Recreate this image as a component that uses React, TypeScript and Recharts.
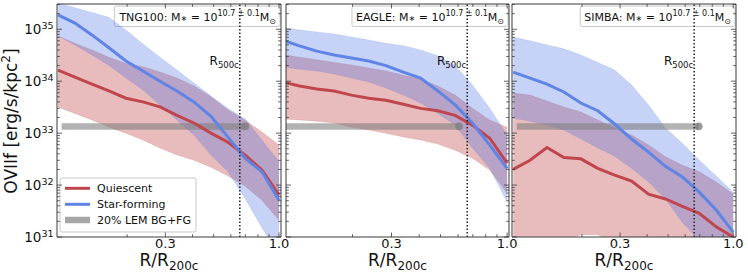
import React, { useLayoutEffect, useRef, useState } from 'react';
import { ComposedChart, Area, Line, XAxis, YAxis, ReferenceLine, Customized } from 'recharts';

// ---------------- data ----------------
const radius = [0.0962, 0.1151, 0.1378, 0.165, 0.1976, 0.2366, 0.2833, 0.3392, 0.4061, 0.4862, 0.5821, 0.6969, 0.8344, 1.0];

// TNG100
const tngQ = [1.64e34, 1.2e34, 8.8e33, 6.5e33, 4.7e33, 4.0e33, 3.2e33, 2.2e33, 1.57e33, 1.0e33, 6.7e32, 3.8e32, 1.95e32, 6.4e31];
const tngQLo = [3.2e33, 2.4e33, 1.8e33, 1.3e33, 1.0e33, 7.4e32, 5.2e32, 3.8e32, 3.0e32, 2.2e32, 1.5e32, 9.6e31, 5.1e31, 2.1e31];
const tngQHi = [7.4e34, 5.4e34, 4.0e34, 2.9e34, 2.2e34, 1.9e34, 1.5e34, 1.15e34, 8.1e33, 5.0e33, 2.8e33, 1.8e33, 1.05e33, 5.9e32];
const tngSF = [1.89e35, 1.32e35, 7.8e34, 4.4e34, 2.45e34, 1.57e34, 1.0e34, 6.5e33, 4.0e33, 2.1e33, 8.4e32, 3.3e32, 1.8e32, 5.1e31];
const tngSFLo = [7.4e34, 5.0e34, 3.2e34, 2.0e34, 1.15e34, 6.8e33, 3.5e33, 1.8e33, 9.2e32, 3.8e32, 1.8e32, 5.6e31, 1.5e31, 4.5e30];
const tngSFHi = [3.2e35, 2.6e35, 2.1e35, 1.7e35, 9.7e34, 5.2e34, 2.9e34, 1.64e34, 9.2e33, 5.2e33, 3.0e33, 1.9e33, 7.4e32, 2.8e32];

// EAGLE
const eagQ = [9.7e33, 8.1e33, 7.1e33, 6.5e33, 5.4e33, 4.7e33, 4.3e33, 3.6e33, 3.0e33, 2.7e33, 2.2e33, 1.43e33, 8.0e32, 2.65e32];
const eagQLo = [1.87e33, 1.8e33, 1.7e33, 1.57e33, 1.3e33, 1.15e33, 1.0e33, 8.4e32, 7.4e32, 6.2e32, 4.7e32, 3.3e32, 1.95e32, 7.0e31];
const eagQHi = [3.3e34, 2.9e34, 2.6e34, 2.3e34, 2.05e34, 1.8e34, 1.57e34, 1.3e34, 1.1e34, 8.1e33, 5.4e33, 3.0e33, 1.8e33, 1.3e33];
const eagSF = [6.2e34, 4.8e34, 3.8e34, 3.2e34, 2.8e34, 2.45e34, 2.0e34, 1.5e34, 1.15e34, 6.5e33, 3.5e33, 1.57e33, 5.9e32, 2.1e32];
const eagSFLo = [1.9e34, 1.7e34, 1.57e34, 1.38e34, 1.15e34, 9.7e33, 7.4e33, 5.4e33, 3.8e33, 2.4e33, 1.43e33, 5.2e32, 2.1e32, 4.7e31];
const eagSFHi = [1.1e35, 9.7e34, 8.9e34, 8.1e34, 7.1e34, 6.2e34, 5.4e34, 4.8e34, 4.0e34, 3.1e34, 2.0e34, 8.5e33, 3.0e33, 9.2e32];

// SIMBA
const simQ = [2.0e32, 3.0e32, 5.3e32, 3.4e32, 3.2e32, 2.1e32, 1.56e32, 1.2e32, 6.7e31, 5.4e31, 3.9e31, 2.85e31, 1.57e31, 1.0e31];
const simQLo = [5e30, 6e30, 7e30, 8.5e30, 1.1e31, 1.1e31, 8e30, 6e30, 5e30, 4e30, 3e30, 2.5e30, 2e30, 1.5e30];
const simQHi = [5.9e33, 5.4e33, 4.15e33, 3.2e33, 2.55e33, 1.8e33, 1.25e33, 9.2e32, 5.9e32, 3.5e32, 2.4e32, 1.8e32, 1.14e32, 6.7e31];
const simSF = [1.5e34, 1.15e34, 8.8e33, 6.2e33, 3.8e33, 2.7e33, 1.5e33, 7.7e32, 4.3e32, 2.3e32, 1.43e32, 7.3e31, 3.3e31, 1.24e31];
const simSFLo = [1.95e33, 1.7e33, 1.43e33, 1.15e33, 7.7e32, 5.2e32, 3.6e32, 2.1e32, 1.14e32, 5.4e31, 1.9e31, 8.7e30, 4.5e30, 2.3e30];
const simSFHi = [7.1e34, 6.0e34, 5.0e34, 4.2e34, 3.2e34, 2.3e34, 1.64e34, 8.5e33, 3.5e33, 1.25e33, 6.4e32, 3.0e32, 1.5e32, 7.3e31];

// 20% LEM background + foreground level and its radial extent per panel
const bgLevel = 1.35e33;
const tngBgR = [0.1, 0.7];
const eagBgR = [0.1, 0.607];
const simBgR = [0.1, 0.693];

const r500c = 0.66;

// axes
const yTicks = [
  1e31, 2e31, 3e31, 4e31, 5e31, 6e31, 7e31, 8e31, 9e31,
  1e32, 2e32, 3e32, 4e32, 5e32, 6e32, 7e32, 8e32, 9e32,
  1e33, 2e33, 3e33, 4e33, 5e33, 6e33, 7e33, 8e33, 9e33,
  1e34, 2e34, 3e34, 4e34, 5e34, 6e34, 7e34, 8e34, 9e34,
  1e35, 2e35, 3e35,
];
const yMajor = [1e31, 1e32, 1e33, 1e34, 1e35];
const yMajorExp = ['31', '32', '33', '34', '35'];
const xTicks = [0.2, 0.3, 0.4, 0.5, 0.6, 0.7, 0.8, 0.9, 1.0];
const xTickLabelValues = [0.3, 1.0];
const xTickLabels = ['0.3', '1.0'];
const yDomain: [number, number] = [1e31, 3.07e35];

const panelNames = ['TNG100', 'EAGLE', 'SIMBA'];
const legendLabels = ['Quiescent', 'Star-forming', '20% LEM BG+FG'];

// ---------------- style ----------------
const W = 748, H = 274, TOP = 4, BOTTOM = 237;
const FONT = '"DejaVu Sans", Verdana, sans-serif';
const AXIS = '#3a3a3a';
const RED = '#c0464e';
const BLUE = '#5f84e6';
const RED_FILL = '#b22222';
const BLUE_FILL = '#4169e1';
const GREY = '#808080';

const rowsOf = (q: number[], qLo: number[], qHi: number[], sf: number[], sfLo: number[], sfHi: number[]) =>
  radius.map((r, i) => ({ r, q: q[i], qBand: [qLo[i], qHi[i]], sf: sf[i], sfBand: [sfLo[i], sfHi[i]] }));
const bgOf = (rr: number[]) => rr.map((r) => ({ r, v: bgLevel }));

const near = (a: number, b: number) => Math.abs(a / b - 1) < 1e-6;

function XTick(props: any) {
  const { x, y, payload, side } = props;
  const v = payload.value;
  const li = xTickLabelValues.findIndex((t) => near(t, v));
  const len = li >= 0 ? 4.5 : 2.8;
  if (side === 'top') {
    return <line x1={x} x2={x} y1={y} y2={y + len} stroke={AXIS} strokeWidth={0.8} />;
  }
  return (
    <g>
      <line x1={x} x2={x} y1={y} y2={y - len} stroke={AXIS} strokeWidth={0.8} />
      {li >= 0 && (
        <text x={x} y={y + 11} textAnchor="middle" fontSize={13} fontFamily={FONT} fill="#111">
          {xTickLabels[li]}
        </text>
      )}
    </g>
  );
}

function YTick(props: any) {
  const { x, y, payload, side, showLabel } = props;
  const v = payload.value;
  const mi = yMajor.findIndex((t) => near(t, v));
  const len = mi >= 0 ? 5 : 2.8;
  if (side === 'right') {
    return <line x1={x} x2={x - len} y1={y} y2={y} stroke={AXIS} strokeWidth={0.8} />;
  }
  return (
    <g>
      <line x1={x} x2={x + len} y1={y} y2={y} stroke={AXIS} strokeWidth={0.8} />
      {showLabel && mi >= 0 && (
        <text x={x - 3.5} y={y + 5} textAnchor="end" fontSize={13.5} fontFamily={FONT} fill="#111">
          10<tspan dy={-5.5} fontSize={9.5}>{yMajorExp[mi]}</tspan>
        </text>
      )}
    </g>
  );
}

function TitleBox({ right, name }: { right: number; name: string }) {
  const ref = useRef<SVGTextElement>(null);
  const [w, setW] = useState(140);
  useLayoutEffect(() => {
    if (ref.current) setW(ref.current.getBBox().width);
  }, []);
  const pad = 4;
  return (
    <g>
      <rect x={right - w - 2 * pad} y={6} width={w + 2 * pad} height={20.5} rx={2} fill="#fff" fillOpacity={0.85} stroke="#c8c8c8" strokeWidth={1} />
      <text ref={ref} x={right - pad} y={20.5} textAnchor="end" fontSize={11} fontFamily={FONT} fill="#111">
        {name}: M<tspan fontSize={8}>∗</tspan> = 10<tspan dy={-4.5} fontSize={8}>10.7 ± 0.1</tspan>
        <tspan dy={4.5}>M</tspan><tspan dy={3.5} fontSize={8}>⊙</tspan>
      </text>
    </g>
  );
}

function XLabel({ cx }: { cx: number }) {
  return (
    <text x={cx} y={266} textAnchor="middle" fontSize={17} fontFamily={FONT} fill="#111">
      R/R<tspan dy={4} fontSize={12}>200c</tspan>
    </text>
  );
}

function YLabel() {
  return (
    <text transform="rotate(-90)" x={-121} y={16.5} textAnchor="middle" fontSize={17} fontFamily={FONT} fill="#111">
      OVIIf [erg/s/kpc<tspan dy={-7} fontSize={12}>2</tspan><tspan dy={7}>]</tspan>
    </text>
  );
}

function LegendBox() {
  const x0 = 60, y0 = 178;
  return (
    <g fontFamily={FONT} fontSize={11}>
      <rect x={x0} y={y0} width={136} height={54} rx={2} fill="#fff" fillOpacity={0.85} stroke="#c8c8c8" strokeWidth={1} />
      <line x1={65} x2={90} y1={188.3} y2={188.3} stroke={RED} strokeWidth={3} />
      <text x={97} y={192} fill="#111">{legendLabels[0]}</text>
      <line x1={65} x2={90} y1={204.3} y2={204.3} stroke={BLUE} strokeWidth={3} />
      <text x={97} y={208} fill="#111">{legendLabels[1]}</text>
      <line x1={65} x2={90} y1={220} y2={220} stroke={GREY} strokeOpacity={0.7} strokeWidth={6.5} />
      <text x={97} y={224} fill="#111">{legendLabels[2]}</text>
    </g>
  );
}

function R500Label(props: any) {
  const vb = props.viewBox || {};
  return (
    <text x={(vb.x ?? 0) - 1} y={65} textAnchor="end" fontSize={12} fontFamily={FONT} fill="#111">
      R<tspan dy={3} fontSize={8.5}>500c</tspan>
    </text>
  );
}

type PanelProps = {
  left: number;
  right: number;
  xDomain: [number, number];
  rows: any[];
  bg: any[];
  name: string;
  first?: boolean;
};

function Panel({ left, right, xDomain, rows, bg, name, first }: PanelProps) {
  const lastBg = bg.length - 1;
  return (
    <div style={{ position: 'absolute', left: 0, top: 0 }}>
      <ComposedChart width={W} height={H} data={rows} margin={{ top: TOP - 1, bottom: H - BOTTOM - 1, left: left - 1, right: W - right - 1 }}>
        <XAxis xAxisId="b" dataKey="r" type="number" scale="log" domain={xDomain} allowDataOverflow ticks={xTicks} interval={0}
          height={1} tickSize={0} tickMargin={0} tickLine={false} axisLine={{ stroke: AXIS, strokeWidth: 1 }}
          tick={(p: any) => <XTick {...p} side="bottom" />} />
        <XAxis xAxisId="t" orientation="top" dataKey="r" type="number" scale="log" domain={xDomain} allowDataOverflow ticks={xTicks} interval={0}
          height={1} tickSize={0} tickMargin={0} tickLine={false} axisLine={{ stroke: AXIS, strokeWidth: 1 }}
          tick={(p: any) => <XTick {...p} side="top" />} />
        <YAxis yAxisId="l" type="number" scale="log" domain={yDomain} allowDataOverflow ticks={yTicks} interval={0}
          width={1} tickSize={0} tickMargin={0} tickLine={false} axisLine={{ stroke: AXIS, strokeWidth: 1 }}
          tick={(p: any) => <YTick {...p} side="left" showLabel={!!first} />} />
        <YAxis yAxisId="r" orientation="right" type="number" scale="log" domain={yDomain} allowDataOverflow ticks={yTicks} interval={0}
          width={1} tickSize={0} tickMargin={0} tickLine={false} axisLine={{ stroke: AXIS, strokeWidth: 1 }}
          tick={(p: any) => <YTick {...p} side="right" />} />
        <Area xAxisId="b" yAxisId="l" dataKey="qBand" type="linear" fill={RED_FILL} fillOpacity={0.3}
          stroke={RED_FILL} strokeOpacity={0.15} strokeWidth={0.8} isAnimationActive={false} />
        <Area xAxisId="b" yAxisId="l" dataKey="sfBand" type="linear" fill={BLUE_FILL} fillOpacity={0.3}
          stroke={BLUE_FILL} strokeOpacity={0.15} strokeWidth={0.8} isAnimationActive={false} />
        <Line xAxisId="b" yAxisId="l" data={bg} dataKey="v" type="linear" stroke={GREY} strokeOpacity={0.6} strokeWidth={6.5}
          isAnimationActive={false}
          dot={(p: any) => p.index === lastBg
            ? <circle key={`d${p.index}`} cx={p.cx} cy={p.cy} r={3.8} fill={GREY} fillOpacity={0.8} />
            : <g key={`d${p.index}`} />}
          activeDot={false} />
        <Line xAxisId="b" yAxisId="l" dataKey="q" type="linear" stroke={RED} strokeWidth={3} dot={false} activeDot={false} isAnimationActive={false} />
        <Line xAxisId="b" yAxisId="l" dataKey="sf" type="linear" stroke={BLUE} strokeWidth={3} dot={false} activeDot={false} isAnimationActive={false} />
        <Customized component={<TitleBox right={right - 1} name={name} />} />
        <ReferenceLine xAxisId="b" yAxisId="l" x={r500c} stroke="#222" strokeWidth={1.5} strokeDasharray="1.5 2"
          label={(p: any) => <R500Label {...p} />} />
        <Customized component={<XLabel cx={(left + right) / 2} />} />
        {first && <Customized component={<YLabel />} />}
        {first && <Customized component={<LegendBox />} />}
      </ComposedChart>
    </div>
  );
}

export default function App() {
  const tngRows = rowsOf(tngQ, tngQLo, tngQHi, tngSF, tngSFLo, tngSFHi);
  const eagRows = rowsOf(eagQ, eagQLo, eagQHi, eagSF, eagSFLo, eagSFHi);
  const simRows = rowsOf(simQ, simQLo, simQHi, simSF, simSFLo, simSFHi);
  return (
    <div style={{ position: 'absolute', left: 0, top: 0, width: W, height: H, background: '#fff', overflow: 'hidden' }}>
      <Panel left={57} right={281} xDomain={[0.0952, 1.021]} rows={tngRows} bg={bgOf(tngBgR)} name={panelNames[0]} first />
      <Panel left={286} right={509} xDomain={[0.1, 1.02]} rows={eagRows} bg={bgOf(eagBgR)} name={panelNames[1]} />
      <Panel left={512} right={736} xDomain={[0.095, 1.03]} rows={simRows} bg={bgOf(simBgR)} name={panelNames[2]} />
    </div>
  );
}
